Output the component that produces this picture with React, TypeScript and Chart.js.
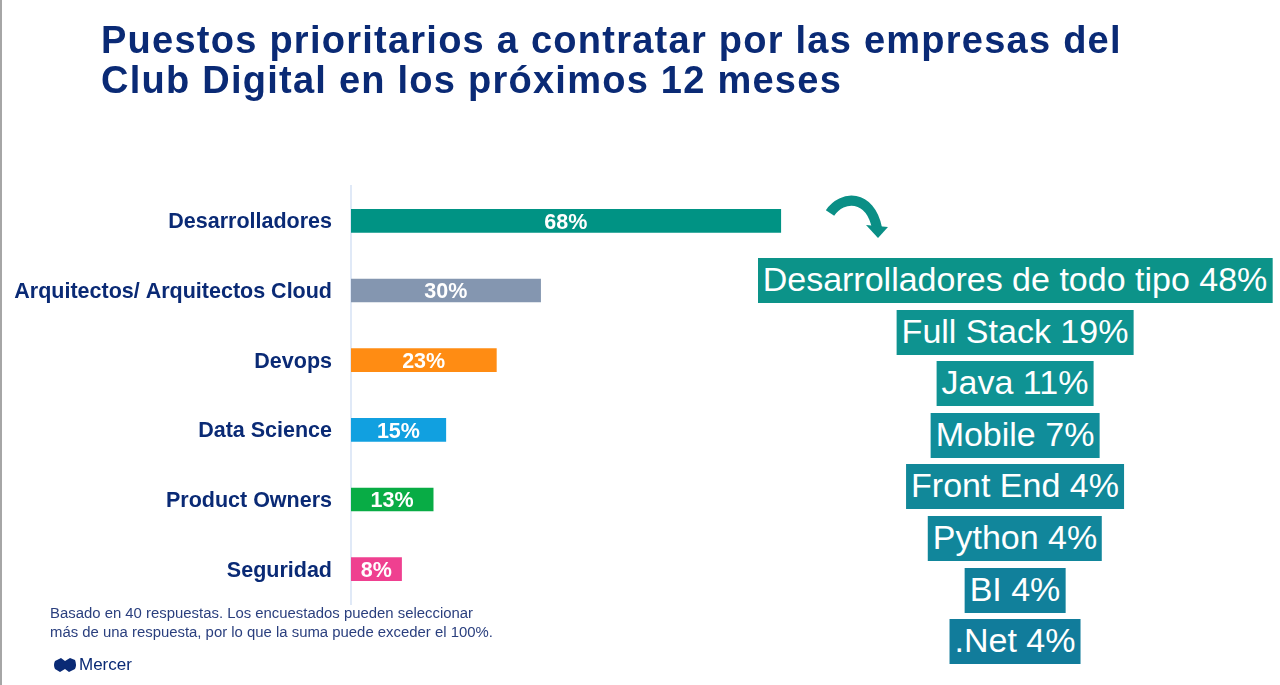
import { useEffect, useRef } from "react";
import { Chart, registerables, type Plugin } from "chart.js";

Chart.register(...registerables);

const titleLines = [
  "Puestos prioritarios a contratar por las empresas del",
  "Club Digital en los próximos 12 meses"
];
const categories = [
  "Desarrolladores",
  "Arquitectos/ Arquitectos Cloud",
  "Devops",
  "Data Science",
  "Product Owners",
  "Seguridad"
];
const values = [68, 30, 23, 15, 13, 8];
const barColors = ["#009384", "#8496b0", "#ff8c13", "#11a0e0", "#08ac45", "#ef4090"];
const detailLabels = [
  "Desarrolladores de todo tipo 48%",
  "Full Stack 19%",
  "Java 11%",
  "Mobile 7%",
  "Front End 4%",
  "Python 4%",
  "BI 4%",
  ".Net 4%"
];
const detailColors = ["#0c9389", "#0e9390", "#0f9394", "#108d9a", "#118899", "#11869b", "#11809b", "#117c9b"];
const noteLines = [
  "Basado en 40 respuestas. Los encuestados pueden seleccionar",
  "más de una respuesta, por lo que la suma puede exceder el 100%."
];

const NAVY = "#0a2a75";
const FONT = '"Liberation Sans", Arial, sans-serif';

// value labels centred on each bar
const barLabels: Plugin<"bar"> = {
  id: "barLabels",
  afterDatasetsDraw(chart) {
    const { ctx } = chart;
    const meta = chart.getDatasetMeta(0);
    ctx.save();
    ctx.font = `bold 21.5px ${FONT}`;
    ctx.fillStyle = "#ffffff";
    ctx.textAlign = "center";
    ctx.textBaseline = "middle";
    meta.data.forEach((bar, i) => {
      const p = bar.getProps(["x", "y", "base"], true);
      ctx.fillText(`${values[i]}%`, (p.x + p.base) / 2, p.y + 2);
    });
    ctx.restore();
  }
};

export default function App() {
  const canvasRef = useRef<HTMLCanvasElement | null>(null);

  useEffect(() => {
    const canvas = canvasRef.current;
    if (!canvas) return;
    const chart = new Chart(canvas, {
      type: "bar",
      data: {
        labels: categories,
        datasets: [
          {
            data: values,
            backgroundColor: barColors,
            barThickness: 23
          }
        ]
      },
      options: {
        indexAxis: "y",
        responsive: false,
        animation: false,
        layout: { padding: { top: 186, bottom: 81, right: 297 } },
        plugins: {
          legend: { display: false },
          tooltip: { enabled: false }
        },
        scales: {
          x: {
            display: false,
            min: 0,
            max: 100
          },
          y: {
            afterFit(scale) {
              scale.width = 351;
            },
            grid: { display: false, drawTicks: false },
            border: { color: "#e0e9f7", width: 2 },
            ticks: {
              color: NAVY,
              padding: 19,
              labelOffset: 1.5,
              autoSkip: false,
              font: { family: FONT, size: 21.5, weight: "bold" }
            }
          }
        }
      },
      plugins: [barLabels]
    });
    return () => chart.destroy();
  }, []);

  return (
    <div
      style={{
        position: "absolute",
        left: 0,
        top: 0,
        width: 1280,
        height: 685,
        overflow: "hidden",
        background: "#fff",
        fontFamily: FONT
      }}
    >
      <canvas ref={canvasRef} width={1280} height={685} style={{ position: "absolute", left: 0, top: 0 }} />
      <div style={{ position: "absolute", left: 0, top: 0, width: 2, height: 685, background: "#a6a6a6" }} />
      {titleLines.map((line, i) => (
        <div
          key={line}
          style={{
            position: "absolute",
            left: 101,
            top: 18 + i * 40,
            fontSize: 38,
            letterSpacing: 1.25,
            lineHeight: "44px",
            fontWeight: "bold",
            color: NAVY,
            whiteSpace: "nowrap"
          }}
        >
          {line}
        </div>
      ))}
      <svg style={{ position: "absolute", left: 820, top: 192 }} width={72} height={50}>
        <path d="M10 21 C22 3 50 2 57 36" fill="none" stroke="#0a8f86" strokeWidth={10} />
        <path d="M46 33 L68 35 L58 46 Z" fill="#0a8f86" />
      </svg>
      {detailLabels.map((label, i) => (
        <div
          key={label}
          style={{
            position: "absolute",
            left: 1015,
            top: 258 + i * 51.6,
            transform: "translateX(-50%)",
            height: 45,
            lineHeight: "42px",
            padding: "0 5px",
            fontSize: 34,
            color: "#fff",
            background: detailColors[i],
            whiteSpace: "nowrap"
          }}
        >
          {label}
        </div>
      ))}
      {noteLines.map((line, i) => (
        <div
          key={line}
          style={{
            position: "absolute",
            left: 50,
            top: 604 + i * 19,
            fontSize: 14.9,
            lineHeight: "18px",
            color: "#2a3f7e",
            whiteSpace: "nowrap"
          }}
        >
          {line}
        </div>
      ))}
      <svg style={{ position: "absolute", left: 53, top: 657 }} width={24} height={16}>
        <path
          d="M2 4 L8 1 L12 4 L17 1 L22 3 Q24 8 22 12 L16 15 L12 12 L7 15 L2 12 Q0 8 2 4 Z"
          fill={NAVY}
        />
      </svg>
      <div
        style={{
          position: "absolute",
          left: 79,
          top: 655,
          fontSize: 17,
          lineHeight: "20px",
          color: NAVY
        }}
      >
        Mercer
      </div>
    </div>
  );
}
